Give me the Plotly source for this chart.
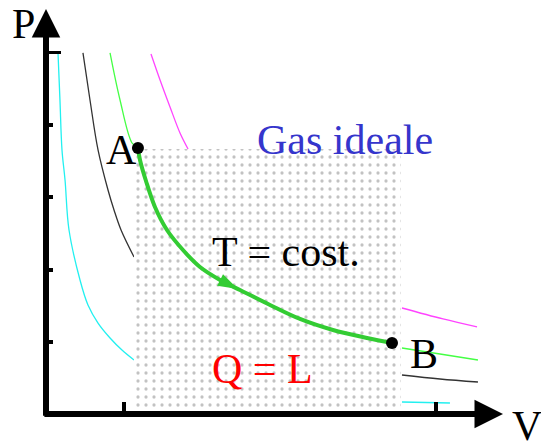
import plotly.graph_objects as go

FONT = "Liberation Serif"

# ---- data (V, P) ----
# thin isotherms; None = part hidden behind the shaded area
cyan_V = [0.154, 0.179, 0.205, 0.244, 0.295, 0.436, 0.538, 0.667, 0.821, 0.974, 1.128, None, 4.564, 5.179]
cyan_P = [5.000, 4.349, 3.657, 3.241, 2.548, 1.856, 1.510, 1.260, 1.053, 0.886, 0.748, None, 0.166, 0.152]
black_V = [0.474, 0.564, 0.667, 0.795, 0.872, 0.962, 1.128, None, 4.564, 5.051, 5.538]
black_P = [5.000, 4.349, 3.657, 3.102, 2.825, 2.548, 2.175, None, 0.540, 0.485, 0.443]
green_V = [0.821, 0.949, 1.103, 1.179, None, 4.564, 5.051, 5.538]
green_P = [5.000, 4.349, 3.753, 3.684, None, 0.914, 0.831, 0.748]
magenta_V = [1.346, 1.462, 1.590, 1.718, 1.821, None, 4.564, 5.090, 5.526]
magenta_P = [4.986, 4.626, 4.252, 3.892, 3.670, None, 1.468, 1.316, 1.205]

# isothermal transformation A -> B
path_V = [1.179, 1.205, 1.282, 1.397, 1.551, 1.756, 1.974, 2.231, 2.487, 2.872, 3.256, 3.679, 4.115, 4.436]
path_P = [3.684, 3.518, 3.227, 2.867, 2.548, 2.271, 2.036, 1.856, 1.717, 1.510, 1.316, 1.163, 1.053, 0.983]
point_V = [1.179, 4.436]
point_P = [3.684, 0.983]
point_labels = ["A", "B"]
arrow_V = [2.46]
arrow_P = [1.73]

# shaded (work) region
shade_V = [1.128, 4.551]
shade_P = [0.0, 3.67]

x_ticks = [1, 5]
y_ticks = [1, 2, 3, 4]
y_top_tick = [5]
x_range = [0, 5.859]
y_range = [0, 5.609]

fig = go.Figure()

for vv, pp, col in [(cyan_V, cyan_P, "#22f0f0"), (black_V, black_P, "#333333"),
                    (green_V, green_P, "#44ff44"), (magenta_V, magenta_P, "#ff44ff")]:
    fig.add_trace(go.Scatter(x=vv, y=pp, mode="lines", line=dict(color=col, width=1.3, shape="spline"),
                             connectgaps=False, hoverinfo="skip"))

fig.add_trace(go.Scatter(
    x=[shade_V[0], shade_V[1], shade_V[1], shade_V[0], shade_V[0]],
    y=[shade_P[0], shade_P[0], shade_P[1], shade_P[1], shade_P[0]],
    mode="lines", fill="toself", line=dict(width=0), fillcolor="white",
    fillpattern=dict(shape=".", size=8, solidity=0.13, fgcolor="#858585", bgcolor="white"),
    hoverinfo="skip"))

fig.add_trace(go.Scatter(x=path_V, y=path_P, mode="lines",
                         line=dict(color="#33cc33", width=4, shape="spline"), hoverinfo="skip"))
fig.add_trace(go.Scatter(x=arrow_V, y=arrow_P, mode="markers",
                         marker=dict(symbol="arrow", size=21, angle=117, color="#33cc33", line=dict(width=0)),
                         hoverinfo="skip"))
fig.add_trace(go.Scatter(x=point_V, y=point_P, mode="markers",
                         marker=dict(size=12, color="black"), hoverinfo="skip"))
fig.add_trace(go.Scatter(x=[0], y=[5], yaxis="y2", mode="markers", marker=dict(opacity=0), hoverinfo="skip"))

ann = []
# axes with arrowheads
ann.append(dict(x=0, y=y_range[1], ax=0, ay=-0.045, xref="x", yref="y", axref="x", ayref="y",
                showarrow=True, arrowhead=2, arrowwidth=6, arrowsize=0.95, arrowcolor="black", text=""))
ann.append(dict(x=x_range[1], y=0, ax=-0.04, ay=0, xref="x", yref="y", axref="x", ayref="y",
                showarrow=True, arrowhead=2, arrowwidth=6, arrowsize=0.95, arrowcolor="black", text=""))

def label(text, x, y, xanchor, color="black", size=42, ref="x"):
    ann.append(dict(text=text, x=x, y=y, xref="paper" if ref == "paper" else "x",
                    yref="paper" if ref == "paper" else "y", xanchor=xanchor, yanchor="middle",
                    showarrow=False, font=dict(family=FONT, size=size, color=color)))

label("P", -0.079, 0.964, "left", ref="paper")
label("V", 1.015, -0.030, "left", ref="paper")
label(point_labels[0], 1.19, 3.65, "right")
label(point_labels[1], 4.645, 0.831, "left")
label("Gas ideale", 2.68, 3.80, "left", color="#3535cc")
label("T = cost.", 2.10, 2.244, "left")
label("Q = L", 2.10, 0.623, "left", color="#ff0000")

axis_common = dict(showgrid=False, zeroline=False, showline=False, showticklabels=False,
                   ticks="inside", tickcolor="black", fixedrange=True)
fig.update_layout(
    width=541, height=441,
    margin=dict(l=46, r=38, t=9, b=27, pad=0),
    paper_bgcolor="white", plot_bgcolor="white",
    showlegend=False,
    xaxis=dict(range=x_range, tickvals=x_ticks, ticklen=12, tickwidth=4, **axis_common),
    yaxis=dict(range=y_range, tickvals=y_ticks, ticklen=7, tickwidth=4, **axis_common),
    yaxis2=dict(range=y_range, overlaying="y", side="left", tickvals=y_top_tick, ticklen=15, tickwidth=3.4,
                **axis_common),
    annotations=ann,
)

fig.write_html("out.html", config={"displayModeBar": False},
               post_script="document.body.style.margin='0px';document.body.style.overflow='hidden';")
